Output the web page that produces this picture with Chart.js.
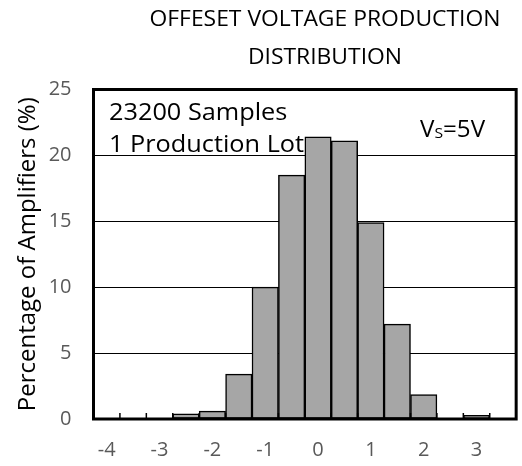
<!DOCTYPE html>
<html><head><meta charset="utf-8">
<script src="https://cdn.jsdelivr.net/npm/chart.js@4.4.0/dist/chart.umd.min.js"></script>
<style>html,body{margin:0;padding:0;background:#fff}#wrap{width:522px;height:466px;position:relative}</style>
</head><body><div id="wrap"><canvas id="c" width="522" height="466"></canvas></div>
<script>
const titleLines = ['OFFESET VOLTAGE PRODUCTION', 'DISTRIBUTION'];
const binCenters = [-4, -3.5, -3, -2.5, -2, -1.5, -1, -0.5, 0, 0.5, 1, 1.5, 2, 2.5, 3, 3.5];
const percentages = [0, 0, 0, 0.4, 0.6, 3.4, 10, 18.5, 21.4, 21.1, 14.9, 7.2, 1.85, 0, 0.28, 0];
const yTicks = [0, 5, 10, 15, 20, 25];
const yAxisTitle = 'Percentage of Amplifiers (%)';
const notes = ['23200 Samples', '1 Production Lot'];
const supplyLabel = { main: 'V', sub: 'S', rest: '=5V' };

const FONT = '"Open Sans", "Liberation Sans", sans-serif';

function stretchedText(ctx, str, x, y, size, align, sx) {
  ctx.save();
  ctx.font = size + 'px ' + FONT;
  ctx.textBaseline = 'alphabetic';
  const w = ctx.measureText(str).width * sx;
  let left = x;
  if (align === 'center') left = x - w / 2;
  else if (align === 'right') left = x - w;
  ctx.translate(left, y);
  ctx.scale(sx, 1);
  ctx.textAlign = 'left';
  ctx.fillText(str, 0, 0);
  ctx.restore();
  return w;
}

const decor = {
  id: 'decor',
  afterDatasetsDraw(chart) {
    const { ctx, chartArea: a, scales: { x } } = chart;
    ctx.save();
    ctx.strokeStyle = '#000';
    ctx.lineWidth = 1.5;
    for (let i = 1; i < binCenters.length; i++) {
      const px = (x.getPixelForValue(i - 1) + x.getPixelForValue(i)) / 2;
      ctx.beginPath();
      ctx.moveTo(px, a.bottom);
      ctx.lineTo(px, a.bottom - 6);
      ctx.stroke();
    }
    ctx.lineWidth = 3;
    ctx.strokeRect(a.left, a.top, a.right - a.left, a.bottom - a.top);
    ctx.restore();
  },
  afterDraw(chart) {
    const { ctx } = chart;
    ctx.save();
    ctx.fillStyle = '#000';
    stretchedText(ctx, titleLines[0], 325, 26, 22, 'center', 1.04);
    stretchedText(ctx, titleLines[1], 325, 64, 22, 'center', 1.04);
    stretchedText(ctx, notes[0], 109, 120, 23, 'left', 1.1);
    stretchedText(ctx, notes[1], 109, 152, 23, 'left', 1.1);
    let xx = 420;
    xx += stretchedText(ctx, supplyLabel.main, xx, 137, 23, 'left', 1.05);
    xx += stretchedText(ctx, supplyLabel.sub, xx, 138, 15, 'left', 1.05);
    stretchedText(ctx, supplyLabel.rest, xx, 137, 23, 'left', 1.05);
    ctx.restore();
  }
};

new Chart(document.getElementById('c'), {
  type: 'bar',
  data: {
    labels: binCenters,
    datasets: [{
      data: percentages,
      backgroundColor: '#a6a6a6',
      borderColor: '#000',
      borderWidth: 1.5,
      borderSkipped: false,
      barPercentage: 1,
      categoryPercentage: 1
    }]
  },
  options: {
    responsive: false,
    animation: false,
    layout: { padding: { top: 89.5, right: 1.5, left: 0, bottom: 0 } },
    plugins: { legend: { display: false }, title: { display: false }, tooltip: { enabled: false } },
    scales: {
      x: {
        type: 'category',
        grid: { display: false, drawTicks: false },
        border: { display: false },
        ticks: {
          autoSkip: false, maxRotation: 0, minRotation: 0,
          color: '#595959', font: { family: FONT, size: 20 }, padding: 19,
          callback: (v, i) => Number.isInteger(binCenters[i]) ? String(binCenters[i]) : ''
        },
        afterFit: s => { s.height = 47; }
      },
      y: {
        min: 0, max: 25,
        afterBuildTicks: s => { s.ticks = yTicks.map(v => ({ value: v })); },
        grid: { color: '#000', lineWidth: 1, drawTicks: false },
        border: { display: false },
        ticks: { color: '#595959', font: { family: FONT, size: 20 }, padding: 22 },
        title: { display: true, text: yAxisTitle, color: '#000', font: { family: FONT, size: 24 }, padding: { top: 14, bottom: 0 } },
        afterFit: s => { s.width = 93.5; }
      }
    }
  },
  plugins: [decor]
});
</script>
</body></html>
